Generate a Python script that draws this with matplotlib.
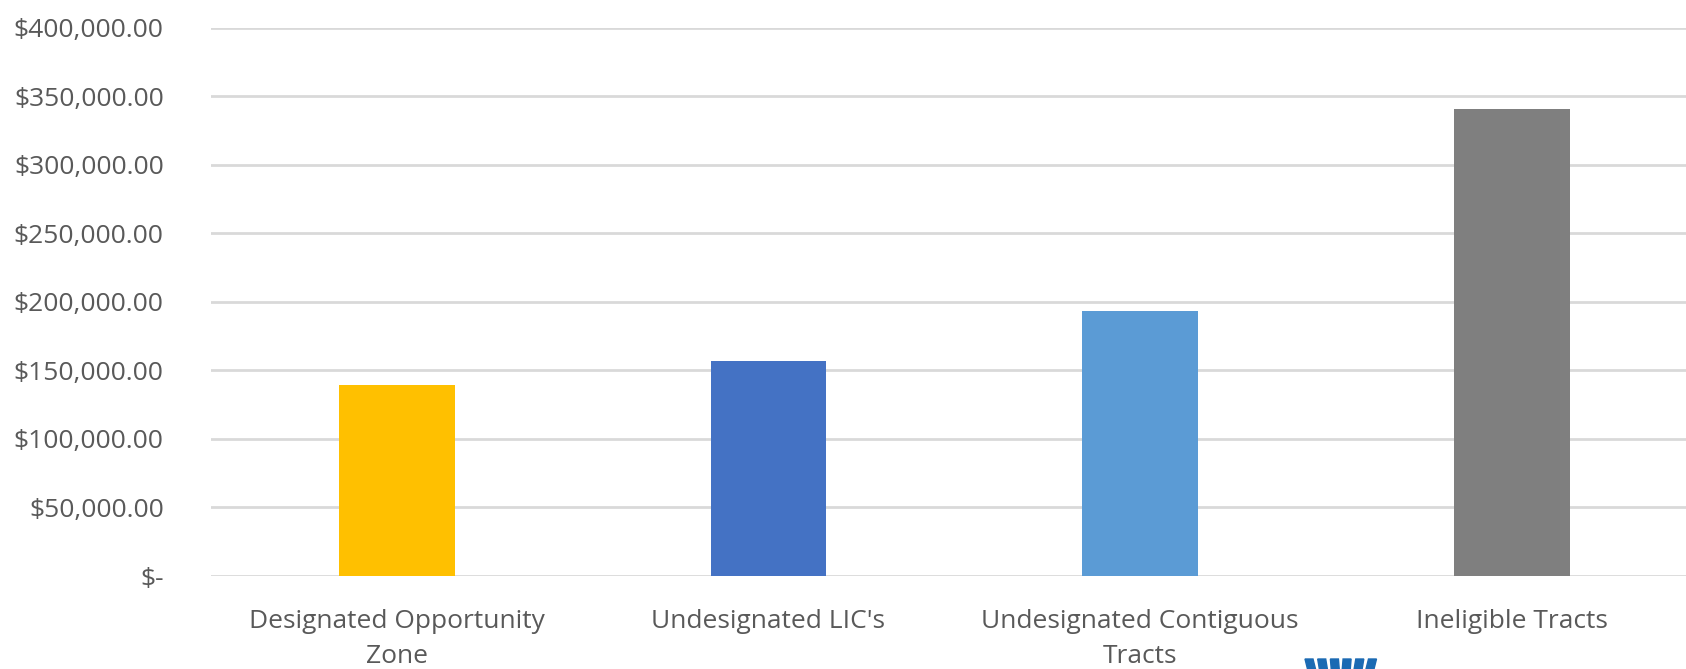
import matplotlib
matplotlib.use("Agg")
import matplotlib.pyplot as plt
from matplotlib.patches import Polygon
from matplotlib.ticker import FuncFormatter

# values
categories = ["Designated Opportunity\nZone", "Undesignated LIC's",
              "Undesignated Contiguous\nTracts", "Ineligible Tracts"]
values = [139400, 157100, 193600, 340800]
colors = ["#FFC000", "#4472C4", "#5B9BD5", "#7F7F7F"]
y_ticks = [0, 50000, 100000, 150000, 200000, 250000, 300000, 350000, 400000]

plt.rcParams['font.family'] = ['Open Sans', 'DejaVu Sans']

W, H = 1686, 669


def money(v, pos):
    if v == 0:
        return "$-"
    return f"${v:,.2f}"


fig = plt.figure(figsize=(W / 100, H / 100), dpi=100)
ax = fig.add_axes([0.1251, 0.139, 0.8819, 0.8196])

ax.bar(range(len(values)), values, width=0.312, color=colors, zorder=3)

ax.set_xlim(-0.5, len(values) - 0.5)
ax.set_ylim(0, 400000)
ax.set_yticks(y_ticks)
ax.yaxis.set_major_formatter(FuncFormatter(money))
ax.set_xticks(range(len(values)))
ax.set_xticklabels(categories, linespacing=1.5)

ax.grid(axis='y', color='#D9D9D9', linewidth=2, zorder=0)
for s in ax.spines.values():
    s.set_visible(False)
ax.tick_params(axis='both', length=0, colors='#595959', labelsize=19)
ax.tick_params(axis='y', pad=34)
ax.tick_params(axis='x', pad=24)

# top of a logo cut off at the bottom edge: six slanted blocks
for i, lean in enumerate([3, 2, 1, -1, -2, -3]):
    x0 = 1305 + i * 12.7
    top, bot = 10, -2
    pts = [(x0, top), (x0 + 8, top),
           (x0 + 8 + lean, bot), (x0 + lean, bot)]
    pts = [(px / W, py / H) for px, py in pts]
    fig.patches.append(Polygon(pts, closed=True, color='#1B6AB3',
                               transform=fig.transFigure, figure=fig))

fig.savefig("out.png", dpi=100)
